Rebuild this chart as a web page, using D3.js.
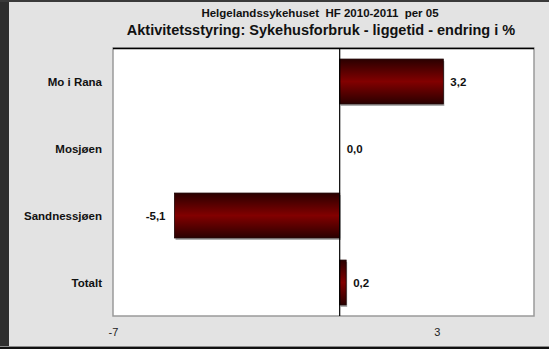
<!DOCTYPE html>
<html><head><meta charset="utf-8">
<script src="https://cdn.jsdelivr.net/npm/d3@7"></script>
<style>body{margin:0;background:#e3e3e3;}svg{display:block;font-family:"Liberation Sans",Arial,sans-serif;}</style>
</head><body>
<script>
const categories = ["Mo i Rana", "Mosjøen", "Sandnessjøen", "Totalt"];
const values = [3.2, 0.0, -5.1, 0.2];
const valueLabels = ["3,2", "0,0", "-5,1", "0,2"];
const tickValues = [-7, 3];
const title1 = "Helgelandssykehuset  HF 2010-2011  per 05";
const title2 = "Aktivitetsstyring: Sykehusforbruk - liggetid - endring i %";

const W = 549, H = 349;
const svg = d3.select("body").append("svg").attr("width", W).attr("height", H);

// frame
svg.append("rect").attr("x",0).attr("y",0).attr("width",W).attr("height",H).attr("fill","#e3e3e3");
svg.append("rect").attr("x",0).attr("y",0).attr("width",9).attr("height",H).attr("fill","#2e2e2e");
svg.append("rect").attr("x",0).attr("y",0).attr("width",W).attr("height",2).attr("fill","#3a3a3a");
svg.append("rect").attr("x",0).attr("y",346).attr("width",W).attr("height",1).attr("fill","#8a8a8a");
svg.append("rect").attr("x",0).attr("y",347).attr("width",W).attr("height",2).attr("fill","#111");

const plot = {x0:113, x1:534, y0:48, y1:316};
const x = d3.scaleLinear().domain([-7, 6]).range([plot.x0, plot.x1]);
const y = d3.scaleBand().domain(categories).range([plot.y0, plot.y1]).paddingInner(0.33).paddingOuter(0.165);

// gradient
const defs = svg.append("defs");
const g = defs.append("linearGradient").attr("id","barGrad").attr("x1",0).attr("y1",0).attr("x2",0).attr("y2",1);
g.append("stop").attr("offset","0%").attr("stop-color","#2a0000");
g.append("stop").attr("offset","50%").attr("stop-color","#820000");
g.append("stop").attr("offset","100%").attr("stop-color","#2a0000");

// plot area
svg.append("rect").attr("x",plot.x0).attr("y",plot.y0).attr("width",plot.x1-plot.x0).attr("height",plot.y1-plot.y0)
  .attr("fill","#fff").attr("stroke","#9a9a9a").attr("stroke-width",1.5);
svg.append("line").attr("x1",plot.x0).attr("x2",plot.x1).attr("y1",plot.y0+0.5).attr("y2",plot.y0+0.5)
  .attr("stroke","#000").attr("stroke-width",1.5);

// bars shadow
svg.selectAll("rect.shadow").data(values).enter().append("rect").attr("class","shadow")
  .attr("x", d => Math.min(x(0), x(d)) + 1)
  .attr("y", (d,i) => y(categories[i]) + 2)
  .attr("width", d => Math.abs(x(d) - x(0)))
  .attr("height", y.bandwidth())
  .attr("fill","#aaa");
// bars
svg.selectAll("rect.bar").data(values).enter().append("rect").attr("class","bar")
  .attr("x", d => Math.min(x(0), x(d)))
  .attr("y", (d,i) => y(categories[i]))
  .attr("width", d => Math.abs(x(d) - x(0)))
  .attr("height", y.bandwidth())
  .attr("fill","url(#barGrad)").attr("stroke", d => d === 0 ? "none" : "#1a0000").attr("stroke-width",0.8);

// zero line
svg.append("line").attr("x1",x(0)).attr("x2",x(0)).attr("y1",plot.y0).attr("y2",plot.y1).attr("stroke","#000").attr("stroke-width",1.2);

// value labels
svg.selectAll("text.val").data(values).enter().append("text").attr("class","val")
  .attr("x", d => d < 0 ? x(d) - 9 : x(d) + 7)
  .attr("y", (d,i) => y(categories[i]) + y.bandwidth()/2 + 4)
  .attr("text-anchor", d => d < 0 ? "end" : "start")
  .attr("font-size", 11.5).attr("font-weight","bold").attr("fill","#111")
  .text((d,i) => valueLabels[i]);

// category axis labels
svg.selectAll("text.cat").data(categories).enter().append("text").attr("class","cat")
  .attr("x", 102).attr("y", d => y(d) + y.bandwidth()/2 + 4)
  .attr("text-anchor","end").attr("font-size",11.5).attr("font-weight","bold").attr("fill","#111")
  .text(d => d);

// x axis tick labels
const xAxis = d3.axisBottom(x).tickValues(tickValues).tickSize(0).tickFormat(d => String(d));
const ax = svg.append("g").attr("transform",`translate(0,${plot.y1+9})`).call(xAxis);
ax.select(".domain").remove();
ax.selectAll("text").attr("font-size",11).attr("fill","#222").attr("font-family","Liberation Sans, Arial, sans-serif");

// titles
svg.append("text").attr("x",320).attr("y",17).attr("text-anchor","middle").attr("font-size",11.5).attr("font-weight","bold").attr("fill","#111")
  .style("white-space","pre").text(title1);
svg.append("text").attr("x",321).attr("y",35).attr("text-anchor","middle").attr("font-size",14.5).attr("font-weight","bold").attr("fill","#111").text(title2);
</script>
</body></html>
